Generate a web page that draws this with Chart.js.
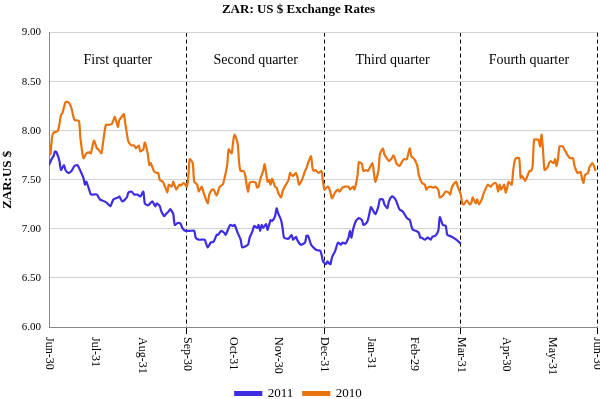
<!DOCTYPE html>
<html>
<head>
<meta charset="utf-8">
<script src="https://cdn.jsdelivr.net/npm/chart.js@4.4.0/dist/chart.umd.min.js"></script>
<style>
  html, body { margin: 0; padding: 0; background: #fff; }
  #wrap { width: 600px; height: 399px; }
</style>
</head>
<body>
<div id="wrap"><canvas id="zarChart"></canvas></div>
<script>
// x axis = days since Jun-30, month-end ticks
const tickDays = [0, 31, 62, 92, 123, 153, 184, 215, 244, 275, 305, 336, 366];
const tickLabels = ['Jun-30', 'Jul-31', 'Aug-31', 'Sep-30', 'Oct-31', 'Nov-30', 'Dec-31',
                    'Jan-31', 'Feb-29', 'Mar-31', 'Apr-30', 'May-31', 'Jun-30'];
const quarterBreaks = [92, 184, 275, 366];
const quarterNames = ['First quarter', 'Second quarter', 'Third quarter', 'Fourth quarter'];

// 2011 series (ends Mar-31)
const days2011 = [0, 2, 3, 4, 5, 7, 8, 10, 11, 13, 15, 17, 19, 21, 23, 24, 25, 28, 30, 32, 34, 37, 39, 41, 43, 46, 47, 49,
  52, 53, 55, 57, 59, 61, 63, 64, 66, 67, 69, 71, 72, 74, 75, 77, 78, 80, 81, 83, 84, 86, 88, 89, 91, 93, 94, 97, 98,
  100, 102, 104, 106, 108, 110, 112, 113, 115, 117, 118, 120, 121, 123, 124, 126, 128, 129, 131, 133, 134, 136, 137,
  139, 140, 141, 142, 143, 145, 146, 148, 149, 151, 152, 153, 155, 156, 157, 159, 160, 162, 163, 165, 166, 168, 169,
  171, 172, 173, 175, 176, 178, 180, 181, 182, 183, 185, 186, 187, 188, 189, 191, 193, 195, 196, 198, 200, 201, 202,
  203, 205, 207, 209, 210, 212, 213, 215, 216, 218, 220, 221, 223, 224, 226, 227, 229, 231, 232, 234, 236, 237, 239,
  241, 242, 243, 245, 247, 248, 249, 251, 253, 255, 256, 258, 260, 261, 263, 265, 266, 269, 272, 275];
const rate2011 = [7.65, 7.72, 7.74, 7.79, 7.78, 7.69, 7.60, 7.65, 7.60, 7.57, 7.59, 7.64, 7.65, 7.59, 7.52, 7.45, 7.48,
  7.35, 7.35, 7.35, 7.30, 7.28, 7.26, 7.23, 7.30, 7.32, 7.33, 7.28, 7.32, 7.37, 7.38, 7.35, 7.35, 7.33, 7.38, 7.26,
  7.24, 7.25, 7.28, 7.23, 7.26, 7.23, 7.18, 7.13, 7.15, 7.18, 7.20, 7.15, 7.04, 7.06, 7.05, 7.01, 6.98, 6.98, 6.98,
  6.98, 6.91, 6.89, 6.89, 6.89, 6.81, 6.86, 6.87, 6.94, 6.94, 6.98, 6.96, 6.94, 7.01, 7.04, 7.03, 7.04, 6.96, 6.89,
  6.81, 6.82, 6.84, 6.91, 6.98, 7.03, 7.01, 7.04, 6.98, 7.04, 7.01, 7.05, 6.99, 7.09, 7.08, 7.13, 7.21, 7.16, 7.09,
  7.01, 6.91, 6.90, 6.90, 6.94, 6.89, 6.92, 6.88, 6.84, 6.84, 6.86, 6.93, 6.93, 6.84, 6.82, 6.79, 6.78, 6.78, 6.74,
  6.67, 6.64, 6.67, 6.65, 6.64, 6.71, 6.77, 6.86, 6.84, 6.86, 6.85, 6.91, 6.98, 6.91, 6.99, 7.08, 7.11, 7.09, 7.04,
  7.06, 7.09, 7.22, 7.20, 7.15, 7.23, 7.30, 7.30, 7.25, 7.21, 7.28, 7.33, 7.31, 7.28, 7.20, 7.18, 7.16, 7.11, 7.09,
  7.03, 6.99, 6.98, 6.96, 6.91, 6.91, 6.89, 6.91, 6.89, 6.92, 6.93, 6.98, 7.12, 7.04, 7.03, 6.94, 6.92, 6.89, 6.85];

// 2010 series (full year)
const days2010 = [0, 1, 2, 3, 6, 8, 9, 11, 13, 15, 17, 20, 21, 23, 25, 27, 28, 30, 32, 33, 35, 36, 38, 40, 42, 44, 46,
  47, 49, 50, 51, 53, 55, 57, 58, 60, 61, 63, 64, 66, 67, 68, 70, 72, 73, 74, 76, 77, 79, 80, 82, 83, 85, 87, 88, 90,
  92, 93, 94, 96, 97, 99, 100, 102, 103, 106, 107, 109, 110, 112, 114, 116, 117, 119, 120, 122, 123, 124, 126, 127,
  128, 130, 131, 132, 133, 134, 136, 138, 139, 140, 141, 143, 144, 145, 146, 147, 148, 149, 151, 152, 153, 155, 156,
  157, 159, 160, 161, 162, 163, 165, 166, 167, 169, 171, 172, 173, 175, 176, 177, 178, 180, 182, 183, 184, 186, 187,
  188, 189, 191, 193, 194, 196, 198, 200, 201, 203, 204, 206, 207, 209, 210, 212, 213, 216, 217, 218, 220, 221, 223,
  224, 226, 227, 229, 230, 231, 232, 234, 236, 237, 239, 240, 241, 242, 244, 246, 247, 249, 251, 252, 253, 255, 257,
  258, 260, 261, 263, 265, 267, 268, 269, 271, 272, 273, 275, 276, 277, 279, 281, 282, 283, 285, 286, 287, 289, 290,
  292, 293, 295, 296, 298, 299, 300, 301, 302, 304, 305, 306, 307, 309, 310, 311, 312, 314, 315, 316, 318, 319, 321,
  322, 323, 324, 326, 327, 328, 329, 330, 331, 333, 334, 335, 337, 338, 339, 340, 341, 343, 345, 346, 348, 350, 351,
  352, 353, 355, 356, 357, 358, 360, 361, 363, 364, 365];
const rate2010 = [7.87, 7.76, 7.93, 7.98, 8.00, 8.16, 8.18, 8.29, 8.29, 8.23, 8.11, 8.10, 7.92, 7.72, 7.77, 7.78, 7.77,
  7.90, 7.82, 7.81, 7.77, 7.87, 8.06, 8.06, 8.07, 8.14, 8.04, 8.11, 8.15, 8.17, 8.07, 7.89, 7.85, 7.85, 7.82, 7.85,
  7.79, 7.81, 7.88, 7.76, 7.65, 7.67, 7.59, 7.57, 7.57, 7.50, 7.48, 7.45, 7.37, 7.45, 7.43, 7.48, 7.40, 7.45, 7.44,
  7.47, 7.43, 7.52, 7.71, 7.67, 7.48, 7.45, 7.38, 7.43, 7.38, 7.26, 7.35, 7.40, 7.40, 7.34, 7.43, 7.45, 7.50, 7.65,
  7.81, 7.77, 7.89, 7.96, 7.87, 7.67, 7.59, 7.59, 7.55, 7.45, 7.38, 7.47, 7.48, 7.47, 7.42, 7.43, 7.50, 7.59, 7.66,
  7.57, 7.48, 7.50, 7.45, 7.51, 7.43, 7.42, 7.37, 7.32, 7.38, 7.42, 7.47, 7.50, 7.57, 7.55, 7.54, 7.57, 7.52, 7.45,
  7.50, 7.59, 7.62, 7.67, 7.74, 7.62, 7.59, 7.60, 7.57, 7.59, 7.48, 7.40, 7.43, 7.42, 7.37, 7.31, 7.37, 7.40, 7.38,
  7.42, 7.43, 7.43, 7.40, 7.43, 7.40, 7.54, 7.68, 7.66, 7.59, 7.60, 7.59, 7.67, 7.57, 7.48, 7.59, 7.76, 7.82, 7.76,
  7.71, 7.69, 7.72, 7.75, 7.72, 7.67, 7.64, 7.69, 7.71, 7.71, 7.77, 7.82, 7.74, 7.71, 7.64, 7.55, 7.47, 7.45, 7.40,
  7.42, 7.43, 7.42, 7.43, 7.40, 7.32, 7.34, 7.38, 7.37, 7.35, 7.42, 7.47, 7.48, 7.43, 7.35, 7.26, 7.25, 7.29, 7.25,
  7.26, 7.32, 7.26, 7.30, 7.25, 7.30, 7.35, 7.42, 7.45, 7.43, 7.45, 7.47, 7.45, 7.38, 7.45, 7.40, 7.45, 7.37, 7.42,
  7.48, 7.45, 7.59, 7.69, 7.72, 7.72, 7.52, 7.54, 7.49, 7.52, 7.59, 7.59, 7.64, 7.91, 7.91, 7.91, 7.84, 7.96, 7.79,
  7.60, 7.63, 7.67, 7.69, 7.67, 7.71, 7.64, 7.72, 7.84, 7.84, 7.79, 7.76, 7.72, 7.72, 7.64, 7.60, 7.57, 7.58, 7.51,
  7.47, 7.55, 7.57, 7.63, 7.67, 7.64, 7.59];

const serif = '"Liberation Serif", "Times New Roman", serif';

// rotated month labels + quarter captions
const extras = {
    id: 'extras',
    afterDraw(chart) {
        const { ctx, chartArea } = chart;
        const x = chart.scales.x, y = chart.scales.y;
        ctx.save();
        ctx.fillStyle = '#000';
        ctx.font = '12px ' + serif;
        ctx.textAlign = 'left';
        ctx.textBaseline = 'middle';
        tickDays.forEach((d, i) => {
            ctx.save();
            ctx.translate(x.getPixelForValue(d), chartArea.bottom + 10);
            ctx.rotate(Math.PI / 2);
            ctx.fillText(tickLabels[i], 0, 0);
            ctx.restore();
        });

        ctx.font = '14px ' + serif;
        ctx.textAlign = 'center';
        let start = 0;
        quarterBreaks.forEach((end, i) => {
            const mid = (x.getPixelForValue(start) + x.getPixelForValue(end)) / 2;
            ctx.fillText(quarterNames[i], mid, y.getPixelForValue(8.72));
            start = end;
        });
        ctx.restore();
    }
};

const toPoints = (days, vals) => days.map((d, i) => ({ x: d, y: vals[i] }));
const isBreak = v => quarterBreaks.includes(v);

new Chart(document.getElementById('zarChart'), {
    type: 'line',
    data: {
        datasets: [
            { label: '2011', data: toPoints(days2011, rate2011), borderColor: '#3d2ce0', backgroundColor: '#3d2ce0',
              borderWidth: 2.2, pointRadius: 0, tension: 0.2 },
            { label: '2010', data: toPoints(days2010, rate2010), borderColor: '#e8730f', backgroundColor: '#e8730f',
              borderWidth: 2.2, pointRadius: 0, tension: 0.2 }
        ]
    },
    options: {
        responsive: true,
        maintainAspectRatio: false,
        animation: false,
        layout: { padding: { left: 0, right: 3, top: 0, bottom: -11 } },
        plugins: {
            title: {
                display: true,
                text: 'ZAR: US $ Exchange Rates',
                color: '#000',
                font: { family: serif, size: 13, weight: 'bold' },
                padding: { top: 2, bottom: 15 }
            },
            legend: {
                position: 'bottom',
                labels: {
                    color: '#000',
                    font: { family: serif, size: 13 },
                    boxWidth: 26,
                    boxHeight: 3,
                    padding: 10
                }
            },
            tooltip: { enabled: false }
        },
        scales: {
            x: {
                type: 'linear',
                min: 0,
                max: 366,
                afterBuildTicks: s => { s.ticks = tickDays.map(v => ({ value: v })); },
                afterFit: s => { s.height = 50; },
                ticks: { display: false },
                grid: {
                    color: c => isBreak(c.tick && c.tick.value) ? '#000' : 'rgba(0,0,0,0)',
                    tickColor: c => isBreak(c.tick && c.tick.value) ? '#000' : 'rgba(0,0,0,0)',
                    tickLength: 7,
                    lineWidth: 1
                },
                border: { color: '#888', width: 1, dash: [4, 3] }
            },
            y: {
                min: 6,
                max: 9,
                afterFit: s => { s.width = 49; },
                ticks: {
                    stepSize: 0.5,
                    color: '#000',
                    font: { family: serif, size: 11 },
                    padding: 8,
                    callback: v => v.toFixed(2)
                },
                grid: { color: '#d3d3d3', drawTicks: false },
                border: { color: '#888', width: 1 },
                title: {
                    display: true,
                    text: 'ZAR:US $',
                    color: '#000',
                    font: { family: serif, size: 13, weight: 'bold' },
                    padding: { top: 0, bottom: 0 }
                }
            }
        }
    },
    plugins: [extras]
});
</script>
</body>
</html>
